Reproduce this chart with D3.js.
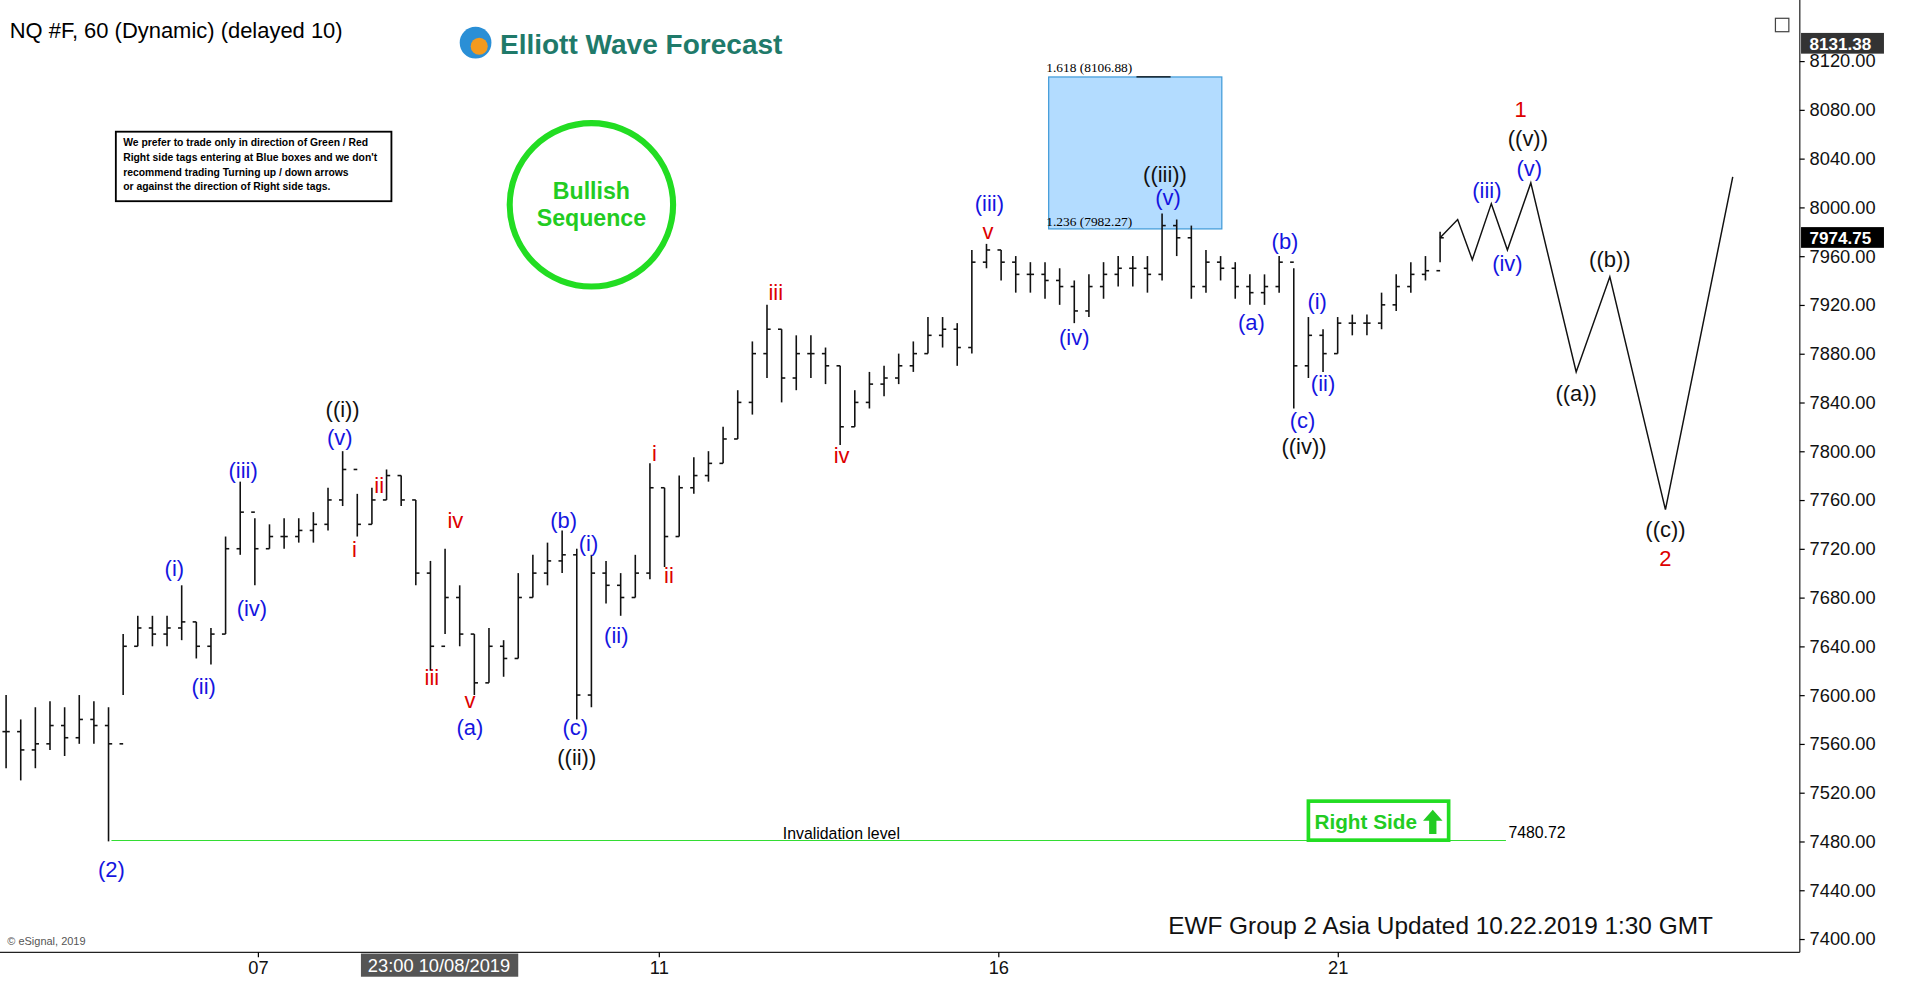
<!DOCTYPE html><html><head><meta charset="utf-8"><script src="https://cdn.jsdelivr.net/npm/d3@7"></script>
<style>body{margin:0;background:#fff}svg{font-family:Arial,"Liberation Sans",sans-serif}</style></head><body><svg id="c" width="1912" height="981"></svg><script>
const cl=[7570,7555,7560,7575,7565,7580,7575,7560,7640,7655,7650,7655,7660,7640,7650,7720,7750,7720,7730,7730,7735,7740,7760,7785,7740,7760,7780,7760,7700,7640,7680,7650,7610,7640,7630,7680,7700,7710,7715,7600,7700,7690,7680,7700,7770,7730,7770,7780,7790,7810,7840,7880,7900,7860,7880,7880,7870,7820,7840,7855,7860,7870,7880,7895,7900,7885,7955,7965,7955,7945,7945,7940,7935,7915,7935,7945,7950,7950,7945,7985,7975,7935,7955,7950,7935,7930,7935,7955,7870,7895,7880,7905,7905,7905,7920,7935,7945,7948,7975];
const hi=[7600,7580,7590,7595,7590,7600,7595,7590,7650,7665,7665,7665,7690,7660,7655,7730,7775,7745,7740,7745,7745,7750,7770,7800,7765,7770,7785,7780,7760,7710,7720,7690,7650,7655,7645,7700,7715,7725,7735,7720,7715,7710,7700,7715,7790,7770,7780,7795,7800,7820,7850,7890,7920,7900,7895,7895,7885,7870,7850,7865,7870,7880,7890,7910,7910,7905,7965,7970,7965,7960,7955,7955,7950,7940,7945,7955,7960,7960,7960,7995,7990,7985,7965,7960,7955,7945,7945,7960,7950,7910,7900,7910,7912,7912,7930,7945,7955,7960,7980];
const lo=[7540,7530,7540,7555,7550,7560,7560,7480,7600,7640,7640,7640,7645,7630,7625,7650,7715,7690,7720,7720,7725,7725,7735,7755,7730,7740,7760,7755,7690,7620,7650,7640,7600,7610,7615,7630,7680,7690,7700,7580,7590,7675,7665,7680,7695,7705,7730,7765,7775,7790,7810,7830,7860,7840,7850,7860,7855,7805,7820,7835,7845,7855,7865,7880,7885,7870,7880,7950,7940,7930,7930,7925,7920,7905,7910,7925,7935,7935,7930,7940,7960,7925,7930,7940,7925,7920,7920,7930,7835,7860,7865,7880,7895,7895,7900,7915,7930,7940,7955];
const projT=[98,99.2,100.2,101.5,102.6,104.2,107.3,109.6,113.4,118];
const projP=[7975,7990,7957,8003,7965,8020,7865,7943,7752,8025];
const yTicks=[8120,8080,8040,8000,7960,7920,7880,7840,7800,7760,7720,7680,7640,7600,7560,7520,7480,7440,7400];
const dateLabels=["07","11","16","21"], dateIdx=[17.2,44.6,67.8,91];
const labels=[["(2)",7.2,713,"b"],["(i)",11.5,466,"b"],["(ii)",13.5,563,"b"],["(iii)",16.2,386,"b"],["(iv)",16.8,499,"b"],["(v)",22.8,359,"b"],["((i))",23,336,"k"],["i",23.8,451,"r"],["ii",25.5,398,"r"],["iii",29.1,556,"r"],["iv",30.7,427,"r"],["v",31.7,575,"r"],["(a)",31.7,597,"b"],["(b)",38.1,427,"b"],["(i)",39.8,446,"b"],["(ii)",41.7,521,"b"],["(c)",38.9,597,"b"],["((ii))",39,621,"k"],["i",44.3,372,"r"],["ii",45.3,472,"r"],["iii",52.6,240,"r"],["iv",57.1,374,"r"],["(iii)",67.2,167,"b"],["v",67.1,190,"r"],["(iv)",73,277,"b"],["((iii))",79.2,143,"k"],["(v)",79.4,162,"b"],["(a)",85.1,265,"b"],["(b)",87.4,198,"b"],["(i)",89.6,247,"b"],["(ii)",90,315,"b"],["(c)",88.6,345,"b"],["((iv))",88.7,366,"k"],["(iii)",101.2,156,"b"],["(iv)",102.6,216,"b"],["(v)",104.1,138,"b"],["((v))",104,114,"k"],["1",103.5,90,"r"],["((a))",107.3,323,"k"],["((b))",109.6,213,"k"],["((c))",113.4,434,"k"],["2",113.4,458,"r"]];
const col={b:"#1515e0",r:"#dd0000",k:"#111"};
const svg=d3.select("#c").append("g").attr("transform","scale("+(1912/1568)+")");
const x=d3.scaleLinear().domain([0,98]).range([5,1181]);
const y=d3.scaleLinear().domain([8120,7400]).range([50,770]);
svg.append("line").attr("x1",1476).attr("x2",1476).attr("y1",0).attr("y2",781).attr("stroke","#222");
svg.append("line").attr("x1",0).attr("x2",1476).attr("y1",781).attr("y2",781).attr("stroke","#222");
const ya=svg.append("g").attr("transform","translate(1476,0)").call(d3.axisRight(y).tickValues(yTicks).tickSize(4).tickFormat(d3.format(".2f")));
ya.select(".domain").remove();ya.selectAll("text").attr("font-size",15).attr("fill","#111").attr("x",8);
const xa=svg.append("g").attr("transform","translate(0,781)").call(d3.axisBottom(x).tickValues(dateIdx).tickSize(4).tickFormat((d,i)=>dateLabels[i]));
xa.select(".domain").remove();xa.selectAll("text").attr("font-size",15).attr("fill","#111");
svg.append("rect").attr("x",296).attr("y",782).attr("width",129).attr("height",19).attr("fill","#555");
svg.append("text").attr("x",360).attr("y",797).attr("text-anchor","middle").attr("fill","#fff").attr("font-size",15).text("23:00 10/08/2019");
svg.append("rect").attr("x",860).attr("y",y(8106.88)).attr("width",142).attr("height",y(7982.27)-y(8106.88)).attr("fill","#b3dcff").attr("stroke","#3f9ad8");
svg.append("line").attr("x1",932).attr("x2",960).attr("y1",y(8106.88)).attr("y2",y(8106.88)).attr("stroke","#000");
svg.append("text").attr("x",858).attr("y",y(8106.88)-4).attr("font-family","Liberation Serif,serif").attr("font-size",11).text("1.618 (8106.88)");
svg.append("text").attr("x",858).attr("y",y(7982.27)-2).attr("font-family","Liberation Serif,serif").attr("font-size",11).text("1.236 (7982.27)");
svg.append("line").attr("x1",x(7.2)).attr("x2",1235).attr("y1",y(7480.72)).attr("y2",y(7480.72)).attr("stroke","#33dd33");
svg.append("text").attr("x",690).attr("y",688).attr("text-anchor","middle").attr("font-size",13).text("Invalidation level");
svg.append("text").attr("x",1237).attr("y",687).attr("font-size",13).text("7480.72");
const g=svg.append("g").attr("stroke","#111").attr("stroke-width",1.3);
d3.range(Math.min(cl.length,hi.length,lo.length)).forEach(i=>{const xx=x(i);const op=i?cl[i-1]:cl[i];
g.append("line").attr("x1",xx).attr("x2",xx).attr("y1",y(hi[i])).attr("y2",y(lo[i]));
g.append("line").attr("x1",xx-3).attr("x2",xx).attr("y1",y(op)).attr("y2",y(op));
g.append("line").attr("x1",xx).attr("x2",xx+3).attr("y1",y(cl[i])).attr("y2",y(cl[i]));});
svg.append("path").attr("d",d3.line().x((d,i)=>x(projT[i])).y(d=>y(d))(projP)).attr("fill","none").attr("stroke","#111").attr("stroke-width",1.2);
labels.forEach(l=>svg.append("text").attr("x",x(l[1])).attr("y",l[2]+6).attr("text-anchor","middle").attr("font-size",18).attr("fill",col[l[3]]).text(l[0]));
[[8134,"8131.38","#333"],[7974.75,"7974.75","#000"]].forEach(p=>{svg.append("rect").attr("x",1477).attr("y",y(p[0])-9).attr("width",68).attr("height",17).attr("fill",p[2]);
svg.append("text").attr("x",1484).attr("y",y(p[0])+5).attr("fill","#fff").attr("font-size",14).attr("font-weight","bold").text(p[1]);});
svg.append("text").attr("x",8).attr("y",31).attr("font-size",18).text("NQ #F, 60 (Dynamic) (delayed 10)");
svg.append("circle").attr("cx",390).attr("cy",35).attr("r",13).attr("fill","#2a8fd6");
svg.append("circle").attr("cx",393).attr("cy",38).attr("r",7).attr("fill","#f39a1e");
svg.append("text").attr("x",410).attr("y",44).attr("font-size",23).attr("font-weight","bold").attr("fill","#1f7a6a").text("Elliott Wave Forecast");
svg.append("rect").attr("x",95).attr("y",108).attr("width",226).attr("height",57).attr("fill","#fff").attr("stroke","#000").attr("stroke-width",1.5);
["We prefer to trade only in direction of Green / Red","Right side tags entering at Blue boxes and we don't","recommend trading Turning up / down arrows","or against the direction of Right side tags."].forEach((t,i)=>svg.append("text").attr("x",101).attr("y",120+i*12).attr("font-size",8.5).attr("font-weight","bold").text(t));
svg.append("circle").attr("cx",485).attr("cy",168).attr("r",67).attr("fill","none").attr("stroke","#22dd22").attr("stroke-width",5);
svg.append("text").attr("x",485).attr("y",163).attr("text-anchor","middle").attr("font-size",19).attr("font-weight","bold").attr("fill","#22cc22").text("Bullish");
svg.append("text").attr("x",485).attr("y",185).attr("text-anchor","middle").attr("font-size",19).attr("font-weight","bold").attr("fill","#22cc22").text("Sequence");
svg.append("rect").attr("x",1073).attr("y",657).attr("width",115).attr("height",32).attr("fill","#fff").attr("stroke","#22dd22").attr("stroke-width",3);
svg.append("text").attr("x",1078).attr("y",680).attr("font-size",17).attr("font-weight","bold").attr("fill","#22cc22").text("Right Side");
svg.append("path").attr("d","M1175,664 L1183,673 L1178,673 L1178,684 L1172,684 L1172,673 L1167,673Z").attr("fill","#22cc22");
svg.append("text").attr("x",958).attr("y",766).attr("font-size",20).attr("fill","#111").text("EWF Group 2 Asia  Updated 10.22.2019 1:30 GMT");
svg.append("text").attr("x",6).attr("y",775).attr("font-size",9).attr("fill","#555").text("© eSignal, 2019");
svg.append("rect").attr("x",1456).attr("y",15).attr("width",11).attr("height",11).attr("fill","#fff").attr("stroke","#444");
</script></body></html>
